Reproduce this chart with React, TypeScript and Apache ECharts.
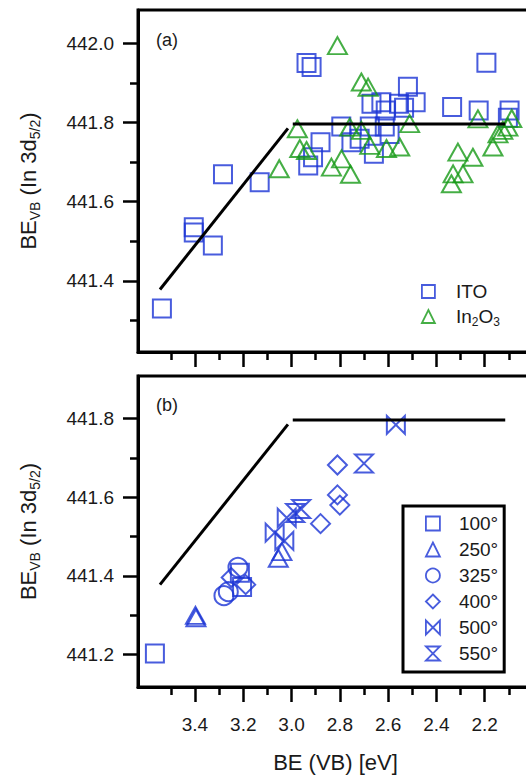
import React, { useEffect, useRef } from 'react';
import * as echarts from 'echarts';

const xMajorTicks = [3.4, 3.2, 3.0, 2.8, 2.6, 2.4, 2.2];
const xMinorTicks = [3.5, 3.3, 3.1, 2.9, 2.7, 2.5, 2.3, 2.1];
const yMajorTicksA = [441.4, 441.6, 441.8, 442.0];
const yMinorTicksA = [441.3, 441.5, 441.7, 441.9];
const yMajorTicksB = [441.2, 441.4, 441.6, 441.8];
const yMinorTicksB = [441.3, 441.5, 441.7];

const itoData = [
  [3.537, 441.33], [3.405, 441.535], [3.405, 441.522], [3.326, 441.489],
  [3.284, 441.669], [3.132, 441.649], [2.938, 441.95], [2.917, 441.94],
  [2.931, 441.691], [2.911, 441.712], [2.88, 441.75], [2.794, 441.79],
  [2.752, 441.75], [2.718, 441.759], [2.676, 441.79], [2.669, 441.847],
  [2.628, 441.851], [2.61, 441.83], [2.555, 441.847], [2.534, 441.837],
  [2.486, 441.851], [2.518, 441.89], [2.659, 441.721], [2.594, 441.771],
  [2.614, 441.79], [2.335, 441.839], [2.225, 441.83], [2.193, 441.951],
  [2.097, 441.83], [2.104, 441.812],
];

const in2o3Data = [
  [3.051, 441.683], [2.976, 441.784], [2.966, 441.734], [2.938, 441.729],
  [2.81, 441.994], [2.711, 441.902], [2.683, 441.889], [2.759, 441.788],
  [2.711, 441.78], [2.676, 441.742], [2.607, 441.734], [2.552, 441.738],
  [2.793, 441.708], [2.835, 441.687], [2.756, 441.669], [2.511, 441.797],
  [2.311, 441.725], [2.249, 441.712], [2.331, 441.67], [2.29, 441.67],
  [2.338, 441.645], [2.228, 441.809], [2.166, 441.738], [2.145, 441.771],
  [2.125, 441.78], [2.104, 441.788], [2.088, 441.81],
];

const t100Data = [[3.566, 441.203], [3.214, 441.408], [3.205, 441.372]];
const t250Data = [[3.398, 441.3], [3.396, 441.294], [3.055, 441.445], [3.04, 441.462]];
const t325Data = [[3.28, 441.35], [3.222, 441.422], [3.262, 441.36]];
const t400Data = [[3.25, 441.396], [3.19, 441.378], [2.88, 441.533], [2.81, 441.606], [2.8, 441.58], [2.81, 441.682]];
const t500Data = [[3.07, 441.51], [3.03, 441.489], [3.02, 441.548], [2.568, 441.784]];
const t550Data = [[2.96, 441.57], [2.985, 441.56], [2.7, 441.686]];

const slantLine = [[3.545, 441.378], [3.015, 441.785]];
const flatLine = [[2.995, 441.796], [2.115, 441.796]];

const tempNames = ['100°', '250°', '325°', '400°', '500°', '550°'];

const BLUE = '#1a33d4';
const GREEN = '#169a16';
const FONT = 'Liberation Sans, Arial, Helvetica, sans-serif';
const TXT = '#1a1a1a';

const BOWTIE = 'path://M0,0L0,10L10,0L10,10Z';
const HOURGLASS = 'path://M0,0L10,0L0,10L10,10Z';

function xAxesFor(gridIndex: number, withLabels: boolean) {
  return [
    {
      type: 'value', gridIndex, position: 'bottom', min: 2.0, max: 3.636, inverse: true,
      axisLine: { show: true, lineStyle: { color: '#000', width: 3 } },
      axisTick: { show: true, customValues: xMajorTicks, length: 15, lineStyle: { color: '#000', width: 2.5 } },
      axisLabel: {
        show: withLabels, customValues: xMajorTicks, margin: 28,
        formatter: (v: number) => v.toFixed(1), fontSize: 19, color: TXT, fontFamily: FONT,
      },
      splitLine: { show: false },
      name: withLabels ? 'BE (VB) [eV]' : '',
      nameLocation: 'middle', nameGap: 64,
      nameTextStyle: { fontSize: 22, color: TXT, fontFamily: FONT },
    },
    {
      type: 'value', gridIndex, position: 'bottom', min: 2.0, max: 3.636, inverse: true,
      axisLine: { show: false },
      axisTick: { show: true, customValues: xMinorTicks, length: 8, lineStyle: { color: '#000', width: 2.5 } },
      axisLabel: { show: false },
      splitLine: { show: false },
    },
  ];
}

const yNameRich = {
  m: { fontSize: 22, fontFamily: FONT, color: TXT, lineHeight: 28 },
  s: { fontSize: 14, fontFamily: FONT, color: TXT, lineHeight: 14, verticalAlign: 'bottom' },
};

function yAxesFor(gridIndex: number, min: number, max: number, major: number[], minor: number[]) {
  return [
    {
      type: 'value', gridIndex, position: 'left', min, max,
      axisLine: { show: true, lineStyle: { color: '#000', width: 3 } },
      axisTick: { show: true, customValues: major, length: 15, lineStyle: { color: '#000', width: 2.5 } },
      axisLabel: {
        show: true, customValues: major, margin: 24,
        formatter: (v: number) => v.toFixed(1), fontSize: 19, color: TXT, fontFamily: FONT,
      },
      splitLine: { show: false },
      name: '{m|BE}{s|VB}{m| (In 3d}{s|5/2}{m|)}',
      nameLocation: 'middle', nameGap: 96,
      nameTextStyle: { rich: yNameRich },
    },
    {
      type: 'value', gridIndex, position: 'left', min, max,
      axisLine: { show: false },
      axisTick: { show: true, customValues: minor, length: 8, lineStyle: { color: '#000', width: 2.5 } },
      axisLabel: { show: false },
      splitLine: { show: false },
    },
  ];
}

function scatter(name: string, data: number[][], symbol: string, color: string, axis: number, size: any = 18) {
  return {
    type: 'scatter', name, data, symbol, symbolSize: size,
    xAxisIndex: axis, yAxisIndex: axis,
    itemStyle: { color: 'transparent', borderColor: color, borderWidth: 2 },
    emphasis: { disabled: true }, silent: true, z: 3,
  };
}

function line(data: number[][], axis: number) {
  return {
    type: 'line', data, xAxisIndex: axis, yAxisIndex: axis, symbol: 'none', silent: true,
    lineStyle: { color: '#000', width: 3 }, z: 4,
  };
}

export default function App() {
  const ref = useRef<HTMLDivElement>(null);
  useEffect(() => {
    if (!ref.current) return;
    const chart = echarts.init(ref.current, undefined, { renderer: 'svg' });
    const legendRich = {
      g: { width: 16 },
      n: { fontSize: 19, fontFamily: FONT, color: TXT, lineHeight: 22 },
      s: { fontSize: 12, fontFamily: FONT, color: TXT, lineHeight: 12, verticalAlign: 'bottom' },
    };
    chart.setOption({
      animation: false,
      backgroundColor: '#fff',
      grid: [
        { left: 138, top: 10, width: 395, height: 342, show: true, borderColor: '#000', borderWidth: 3, containLabel: false },
        { left: 138, top: 376, width: 395, height: 311, show: true, borderColor: '#000', borderWidth: 3, containLabel: false },
      ],
      xAxis: [...xAxesFor(0, false), ...xAxesFor(1, true)],
      yAxis: [
        ...yAxesFor(0, 441.22, 442.084, yMajorTicksA, yMinorTicksA),
        ...yAxesFor(1, 441.118, 441.908, yMajorTicksB, yMinorTicksB),
      ],
      legend: [
        {
          data: ['ITO', 'In2O3'], orient: 'vertical', left: 421, top: 282, padding: 0,
          itemWidth: 13, itemHeight: 13, itemGap: 6,
          itemStyle: { borderWidth: 1.8 },
          selectedMode: false,
          formatter: (n: string) => (n === 'In2O3' ? '{g| }{n|In}{s|2}{n|O}{s|3}' : '{g| }{n|ITO}'),
          textStyle: { rich: legendRich },
        },
        {
          data: tempNames, orient: 'vertical', left: 403, top: 506,
          borderColor: '#000', borderWidth: 3, padding: [8, 6, 9, 22],
          itemWidth: 14, itemHeight: 14, itemGap: 7,
          itemStyle: { borderWidth: 1.8 },
          selectedMode: false,
          formatter: (n: string) => '{g| }{n|' + n + '}',
          textStyle: { rich: { ...legendRich, g: { width: 14 }, n: { ...legendRich.n, lineHeight: 20 } } },
        },
      ],
      graphic: [
        { type: 'text', left: 156, top: 31, style: { text: '(a)', fontSize: 18, fontFamily: FONT, fill: TXT } },
        { type: 'text', left: 156, top: 396, style: { text: '(b)', fontSize: 18, fontFamily: FONT, fill: TXT } },
      ],
      series: [
        scatter('ITO', itoData, 'rect', BLUE, 0, 18),
        scatter('In2O3', in2o3Data, 'triangle', GREEN, 0, [19, 17]),
        line(slantLine, 0),
        line(flatLine, 0),
        scatter(tempNames[0], t100Data, 'rect', BLUE, 2, 18),
        scatter(tempNames[1], t250Data, 'triangle', BLUE, 2, [19, 17]),
        scatter(tempNames[2], t325Data, 'circle', BLUE, 2, 19),
        scatter(tempNames[3], t400Data, 'diamond', BLUE, 2, 19),
        scatter(tempNames[4], t500Data, BOWTIE, BLUE, 2, 18),
        scatter(tempNames[5], t550Data, HOURGLASS, BLUE, 2, 18),
        line(slantLine, 2),
        line(flatLine, 2),
      ],
    });
    return () => chart.dispose();
  }, []);
  return (
    <div style={{ position: 'fixed', left: 0, top: 0, width: 526, height: 777, overflow: 'hidden', background: '#fff' }}>
      <div ref={ref} style={{ width: 540, height: 777 }} />
    </div>
  );
}
